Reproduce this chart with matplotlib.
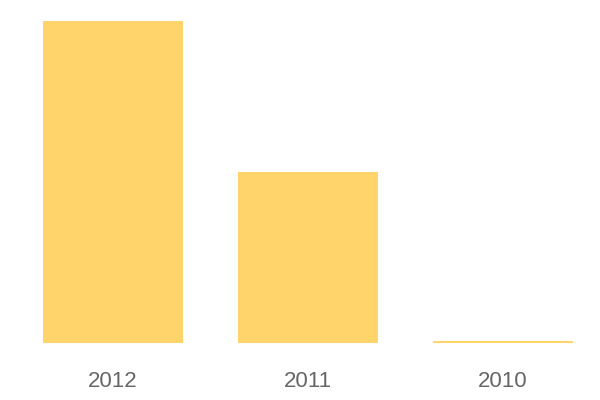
import matplotlib
matplotlib.use("Agg")
import matplotlib.pyplot as plt

categories = ["2012", "2011", "2010"]
values = [100.0, 53.2, 0.6]

fig = plt.figure(figsize=(6, 4), dpi=100)
ax = fig.add_axes([0, 57/400, 1, (343-21.3)/400])
x = list(range(len(categories)))
ax.bar(x, values, width=140/195, color="#FED46B")
ax.set_xlim(-113/195, (600-113)/195)
ax.set_ylim(0, 100)
ax.set_xticks(x)
ax.set_xticklabels(categories, fontsize=16, color="#666666", family="Liberation Sans")
ax.tick_params(axis="x", length=0, pad=20)
ax.set_yticks([])
for s in ax.spines.values():
    s.set_visible(False)
fig.savefig("out.png", dpi=100)
